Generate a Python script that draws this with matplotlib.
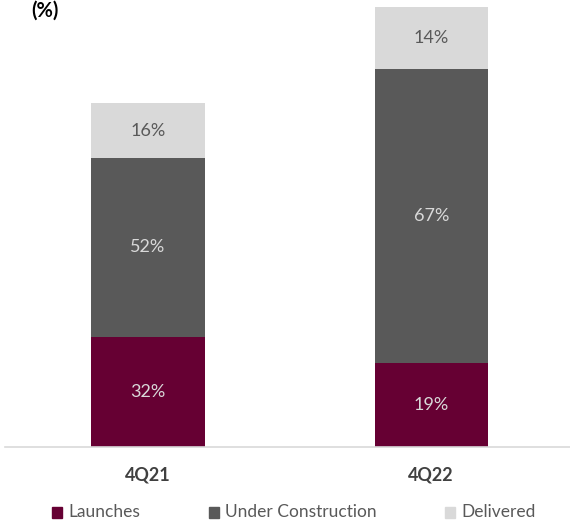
import matplotlib
matplotlib.use("Agg")
import matplotlib.pyplot as plt
from matplotlib.patches import Rectangle

plt.rcParams['font.family'] = ['Lato', 'DejaVu Sans']

# Data
quarters = ["4Q21", "4Q22"]
totals = [344, 440]                     # relative size of each quarter's stock
series = ["Launches", "Under Construction", "Delivered"]
launches_pct = [32, 19]
construction_pct = [52, 67]
delivered_pct = [16, 14]

colors = ["#660033", "#595959", "#d9d9d9"]
label_colors = ["#d9d9d9", "#d9d9d9", "#595959"]

W, H = 570, 524
fig = plt.figure(figsize=(W / 100, H / 100), dpi=100)
ax = fig.add_axes([5 / W, (H - 447) / H, 565 / W, 447 / H])

x = list(range(len(quarters)))
bottoms = [0.0] * len(quarters)
for pct, col, lc, name in zip([launches_pct, construction_pct, delivered_pct],
                               colors, label_colors, series):
    heights = [t * p / 100 for t, p in zip(totals, pct)]
    ax.bar(x, heights, width=0.40, bottom=bottoms, color=col, label=name,
           edgecolor="none")
    for xi, h, b, p in zip(x, heights, bottoms, pct):
        ax.text(xi, b + h / 2, f"{p}%", ha="center", va="center",
                fontsize=13, color=lc)
    bottoms = [b + h for b, h in zip(bottoms, heights)]

ax.set_xlim(-0.505, 1.49)
ax.set_ylim(0, 447)
for s in ["top", "right", "left"]:
    ax.spines[s].set_visible(False)
ax.spines["bottom"].set_color("#d9d9d9")
ax.spines["bottom"].set_linewidth(1.2)
ax.set_yticks([])
ax.set_xticks(x)
ax.set_xticklabels(quarters, fontsize=13, fontweight="bold", color="#404040")
ax.tick_params(axis="x", length=0, pad=14)

fig.text(31 / W, 1 - 1 / H, "(%)", fontsize=14.5, fontweight="bold",
         color="#000000", ha="left", va="top")

# Legend row
legend_items = [(52, "Launches"), (209, "Under Construction"), (445, "Delivered")]
for (px, name), col in zip(legend_items, colors):
    fig.patches.append(Rectangle((px / W, 1 - 518 / H), 10 / W, 11 / H,
                                 transform=fig.transFigure, color=col,
                                 figure=fig))
    fig.text((px + 16) / W, 1 - 512 / H, name, fontsize=12.5, color="#595959",
             ha="left", va="center")

fig.savefig("out.png", dpi=100)
